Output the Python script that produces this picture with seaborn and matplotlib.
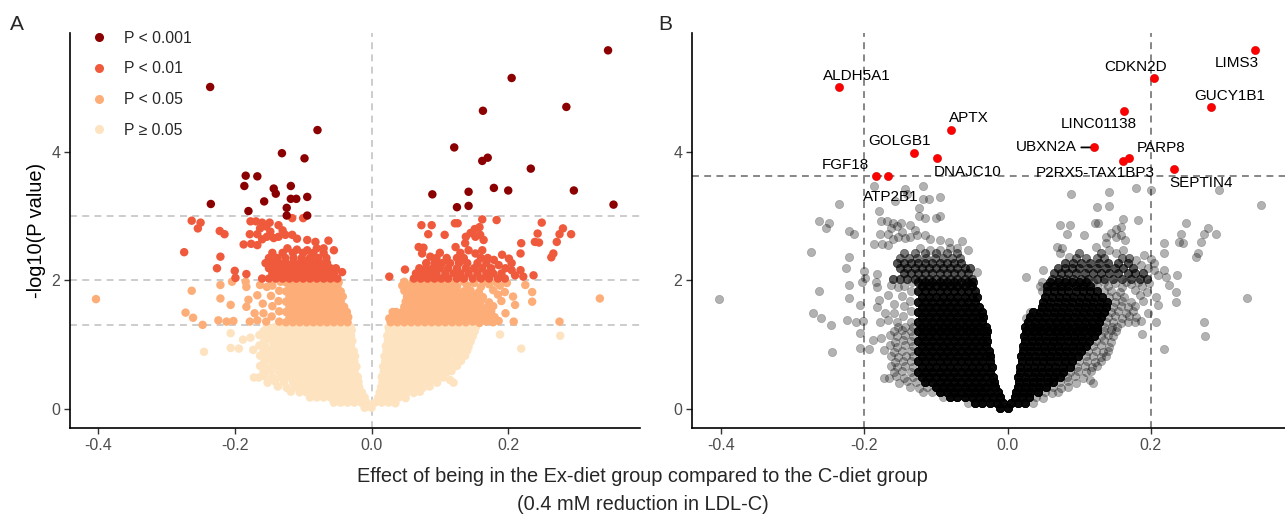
import numpy as np
import pandas as pd
from matplotlib import pyplot as plt
import seaborn as sns

# genes named in panel B (red points)
top_genes = ["ALDH5A1", "APTX", "GOLGB1", "DNAJC10", "FGF18", "ATP2B1", "CDKN2D",
             "LIMS3", "GUCY1B1", "LINC01138", "UBXN2A", "PARP8", "P2RX5-TAX1BP3", "SEPTIN4"]
top_effect = [-0.236, -0.079, -0.131, -0.098, -0.184, -0.167, 0.205,
              0.346, 0.285, 0.163, 0.121, 0.170, 0.162, 0.233]
top_logp = [5.01, 4.34, 3.98, 3.90, 3.63, 3.62, 5.15,
            5.58, 4.70, 4.64, 4.07, 3.91, 3.86, 3.74]

# other genes read one by one: (effect, -log10 P)
single_dark = [(-0.186, 3.47), (-0.143, 3.43), (-0.140, 3.35), (-0.118, 3.47), (-0.157, 3.23),
               (-0.118, 3.27), (-0.110, 3.27), (-0.094, 3.30), (-0.235, 3.19), (-0.180, 3.08),
               (-0.124, 3.13), (-0.124, 3.01), (-0.094, 3.01),
               (0.089, 3.34), (0.142, 3.38), (0.179, 3.44), (0.200, 3.40), (0.296, 3.40),
               (0.125, 3.14), (0.142, 3.16), (0.354, 3.18)]
single_red = [(-0.263, 2.93), (-0.250, 2.90), (-0.254, 2.81), (-0.274, 2.44), (-0.222, 2.77),
              (-0.215, 2.72), (-0.221, 2.37), (-0.226, 2.19), (-0.200, 2.15), (-0.199, 2.04),
              (-0.183, 2.10), (-0.187, 2.56), (-0.176, 2.57), (-0.167, 2.55), (-0.178, 2.72),
              (-0.167, 2.72), (-0.177, 2.92), (-0.169, 2.92), (-0.160, 2.90), (-0.149, 2.90),
              (-0.136, 2.86), (-0.130, 2.78), (-0.116, 2.97), (-0.100, 2.97), (-0.163, 2.81),
              (-0.154, 2.84), (-0.148, 2.76), (-0.160, 2.64), (-0.153, 2.68), (-0.143, 2.66),
              (-0.136, 2.68), (-0.126, 2.71), (-0.116, 2.71), (-0.109, 2.65), (-0.094, 2.63),
              (-0.082, 2.60), (-0.063, 2.62), (-0.055, 2.47), (-0.123, 2.50), (-0.109, 2.48),
              (-0.094, 2.47), (-0.080, 2.50), (-0.070, 2.50), (-0.043, 2.13),
              (0.073, 2.86), (0.088, 2.86), (0.122, 2.89), (0.126, 2.89), (0.162, 2.95),
              (0.158, 2.83), (0.151, 2.80), (0.145, 2.74), (0.138, 2.68), (0.183, 2.94),
              (0.249, 2.90), (0.280, 2.81), (0.275, 2.72), (0.271, 2.60), (0.266, 2.42),
              (0.263, 2.36), (0.292, 2.72), (0.243, 2.73), (0.239, 2.60), (0.245, 2.59),
              (0.219, 2.58), (0.218, 2.42), (0.083, 2.72), (0.107, 2.71), (0.069, 2.52),
              (0.076, 2.51), (0.086, 2.37), (0.074, 2.42), (0.123, 2.52), (0.137, 2.58),
              (0.142, 2.47), (0.152, 2.42), (0.162, 2.47), (0.152, 2.68), (0.159, 2.71),
              (0.164, 2.63), (0.049, 2.17), (0.026, 2.06), (0.237, 2.08), (0.222, 2.06),
              (0.210, 2.08), (0.218, 2.16), (0.191, 2.40), (0.201, 2.34), (0.205, 2.27),
              (0.179, 2.32), (0.186, 2.24), (0.196, 2.19), (0.205, 2.16)]
single_orange = [(-0.403, 1.71), (-0.263, 1.84), (-0.272, 1.50), (-0.261, 1.42), (-0.247, 1.31),
                 (-0.221, 1.72), (-0.221, 1.93), (-0.206, 1.62), (-0.224, 1.38), (-0.212, 1.36),
                 (-0.202, 1.37), (-0.204, 1.98), (-0.184, 1.98), (-0.183, 1.90), (-0.180, 1.70),
                 (-0.183, 1.59), (-0.178, 1.36), (-0.167, 1.38), (-0.167, 1.77), (-0.171, 1.49),
                 (-0.163, 1.93), (-0.153, 1.90), (-0.159, 1.64), (-0.158, 1.49), (-0.154, 1.36),
                 (-0.135, 1.36), (-0.146, 1.44), (-0.135, 1.52), (-0.145, 1.60), (-0.136, 1.68),
                 (-0.147, 1.76), (-0.135, 1.84), (-0.145, 1.92), (-0.133, 1.98),
                 (0.026, 1.41), (0.031, 1.51), (0.208, 1.36), (0.275, 1.36), (0.334, 1.72),
                 (0.138, 1.35), (0.148, 1.36), (0.158, 1.34), (0.168, 1.36), (0.178, 1.35),
                 (0.186, 1.37), (0.140, 1.43), (0.150, 1.44), (0.160, 1.42), (0.170, 1.44),
                 (0.180, 1.43), (0.145, 1.51), (0.155, 1.52), (0.165, 1.50), (0.175, 1.52),
                 (0.196, 1.49), (0.148, 1.59), (0.158, 1.60), (0.168, 1.58), (0.178, 1.60),
                 (0.210, 1.62), (0.150, 1.67), (0.160, 1.68), (0.172, 1.66), (0.190, 1.68),
                 (0.235, 1.67), (0.142, 1.75), (0.152, 1.76), (0.163, 1.74), (0.185, 1.78),
                 (0.207, 1.75), (0.135, 1.83), (0.145, 1.84), (0.157, 1.82), (0.178, 1.85),
                 (0.195, 1.82), (0.235, 1.82), (0.048, 1.84), (0.125, 1.91), (0.140, 1.92),
                 (0.160, 1.90), (0.172, 1.94), (0.188, 1.92), (0.225, 1.93), (0.045, 1.92),
                 (0.120, 1.97), (0.135, 1.98), (0.150, 1.96), (0.165, 1.98), (0.183, 1.97),
                 (0.198, 1.96), (0.048, 1.98)]
single_cream = [(-0.245, 0.89), (-0.206, 1.18), (-0.206, 0.95), (-0.194, 0.94), (-0.188, 1.08),
                (-0.177, 1.11), (-0.173, 0.92), (-0.172, 0.49),
                (-0.055, 0.10), (-0.090, 0.18), (-0.105, 0.26), (-0.118, 0.27), (-0.112, 0.34),
                (-0.124, 0.33), (-0.137, 0.35), (-0.128, 0.42), (-0.141, 0.43), (-0.152, 0.41),
                (-0.132, 0.50), (-0.144, 0.49), (-0.156, 0.51), (-0.165, 0.49), (-0.135, 0.58),
                (-0.147, 0.59), (-0.158, 0.57), (-0.132, 0.66), (-0.143, 0.67), (-0.154, 0.65),
                (-0.163, 0.67), (-0.135, 0.74), (-0.146, 0.75), (-0.157, 0.73), (-0.132, 0.82),
                (-0.142, 0.83), (-0.153, 0.81), (-0.163, 0.83), (-0.135, 0.90), (-0.147, 0.91),
                (-0.158, 0.89), (-0.132, 0.98), (-0.143, 0.99), (-0.155, 0.97), (-0.164, 0.99),
                (-0.135, 1.06), (-0.146, 1.07), (-0.157, 1.05), (-0.132, 1.14), (-0.143, 1.15),
                (-0.154, 1.13), (-0.164, 1.15), (-0.135, 1.22), (-0.147, 1.23), (-0.158, 1.21),
                (-0.132, 1.28), (-0.143, 1.27), (-0.153, 1.28),
                (0.035, 0.09), (0.040, 0.18), (0.050, 0.17), (0.052, 0.26), (0.062, 0.25),
                (0.071, 0.27), (0.064, 0.34), (0.075, 0.33), (0.085, 0.35), (0.074, 0.42),
                (0.085, 0.43), (0.096, 0.41), (0.083, 0.50), (0.094, 0.51), (0.105, 0.49),
                (0.088, 0.58), (0.099, 0.59), (0.110, 0.57), (0.117, 0.59), (0.097, 0.66),
                (0.108, 0.67), (0.118, 0.65), (0.125, 0.67), (0.100, 0.74), (0.111, 0.75),
                (0.122, 0.73), (0.131, 0.75), (0.109, 0.82), (0.120, 0.83), (0.130, 0.81),
                (0.137, 0.83), (0.112, 0.90), (0.123, 0.91), (0.133, 0.89), (0.140, 0.91),
                (0.120, 0.98), (0.131, 0.99), (0.142, 0.97), (0.124, 1.06), (0.135, 1.07),
                (0.145, 1.05), (0.131, 1.14), (0.141, 1.15), (0.148, 1.13), (0.135, 1.22),
                (0.145, 1.23), (0.151, 1.21), (0.135, 1.28), (0.146, 1.27), (0.153, 1.28),
                (0.115, 0.45), (0.120, 0.41), (0.219, 0.94), (0.276, 1.14), (0.188, 1.16)]

# dense middle of the cloud: one row per -log10 P level, each spot holds several genes
cloud_logp = [0.02, 0.10, 0.18, 0.26, 0.34, 0.42, 0.50, 0.58, 0.66, 0.74, 0.82, 0.90, 0.98,
              1.06, 1.14, 1.22, 1.27, 1.35, 1.43, 1.51, 1.59, 1.67, 1.75, 1.83, 1.91, 1.97,
              2.03, 2.11, 2.19, 2.27, 2.35, 2.43]
cloud_genes = [9, 9, 9, 9, 9, 8, 8, 8, 8, 8, 8, 8, 8,
               8, 8, 8, 8, 8, 8, 8, 8, 7, 7, 6, 6, 5,
               3, 3, 3, 3, 2, 2]
cloud_effects = [
    [-0.010, 0.000],
    [-0.045, -0.035, -0.025, -0.015, -0.007, 0.005, 0.015, 0.025],
    [-0.080, -0.070, -0.060, -0.050, -0.040, -0.030, -0.020, -0.010, 0.010, 0.020, 0.030],
    [-0.095, -0.085, -0.075, -0.065, -0.055, -0.045, -0.035, -0.025, -0.014,
     0.012, 0.022, 0.032, 0.042],
    [-0.100, -0.090, -0.080, -0.070, -0.060, -0.050, -0.040, -0.030, -0.018,
     0.014, 0.024, 0.034, 0.044, 0.054],
    [-0.115, -0.105, -0.095, -0.085, -0.075, -0.065, -0.055, -0.045, -0.035, -0.025, -0.019,
     0.016, 0.026, 0.036, 0.046, 0.056, 0.064],
    [-0.120, -0.110, -0.100, -0.090, -0.080, -0.070, -0.060, -0.050, -0.040, -0.030, -0.020,
     0.015, 0.025, 0.035, 0.045, 0.055, 0.065, 0.073],
    [-0.125, -0.115, -0.105, -0.095, -0.085, -0.075, -0.065, -0.055, -0.045, -0.035, -0.025,
     0.018, 0.028, 0.038, 0.048, 0.058, 0.068, 0.078],
    [-0.120, -0.110, -0.100, -0.090, -0.080, -0.070, -0.060, -0.050, -0.040, -0.030, -0.022,
     0.017, 0.027, 0.037, 0.047, 0.057, 0.067, 0.077, 0.087],
    [-0.125, -0.115, -0.105, -0.095, -0.085, -0.075, -0.065, -0.055, -0.045, -0.035, -0.025,
     0.020, 0.030, 0.040, 0.050, 0.060, 0.070, 0.080, 0.090],
    [-0.120, -0.110, -0.100, -0.090, -0.080, -0.070, -0.060, -0.050, -0.040, -0.030, -0.024,
     0.019, 0.029, 0.039, 0.049, 0.059, 0.069, 0.079, 0.089, 0.099],
    [-0.125, -0.115, -0.105, -0.095, -0.085, -0.075, -0.065, -0.055, -0.045, -0.035, -0.026,
     0.022, 0.032, 0.042, 0.052, 0.062, 0.072, 0.082, 0.092, 0.102],
    [-0.120, -0.110, -0.100, -0.090, -0.080, -0.070, -0.060, -0.050, -0.040, -0.030,
     0.021, 0.031, 0.041, 0.051, 0.061, 0.071, 0.081, 0.091, 0.101, 0.110],
    [-0.125, -0.115, -0.105, -0.095, -0.085, -0.075, -0.065, -0.055, -0.045, -0.035, -0.028,
     0.024, 0.034, 0.044, 0.054, 0.064, 0.074, 0.084, 0.094, 0.104, 0.114],
    [-0.120, -0.110, -0.100, -0.090, -0.080, -0.070, -0.060, -0.050, -0.040, -0.030,
     0.023, 0.033, 0.043, 0.053, 0.063, 0.073, 0.083, 0.093, 0.103, 0.113, 0.121],
    [-0.125, -0.115, -0.105, -0.095, -0.085, -0.075, -0.065, -0.055, -0.045, -0.035, -0.029,
     0.026, 0.036, 0.046, 0.056, 0.066, 0.076, 0.086, 0.096, 0.106, 0.116, 0.125],
    [-0.120, -0.110, -0.100, -0.090, -0.080, -0.070, -0.060, -0.050, -0.040, -0.030,
     0.025, 0.035, 0.045, 0.055, 0.065, 0.075, 0.085, 0.095, 0.105, 0.115, 0.125],
    [-0.125, -0.115, -0.105, -0.095, -0.085, -0.075, -0.065, -0.055, -0.045, -0.035,
     0.028, 0.038, 0.048, 0.058, 0.068, 0.078, 0.088, 0.098, 0.108, 0.118, 0.128],
    [-0.120, -0.110, -0.100, -0.090, -0.080, -0.070, -0.060, -0.050, -0.040, -0.034,
     0.032, 0.043, 0.053, 0.063, 0.073, 0.083, 0.093, 0.103, 0.113, 0.123, 0.130],
    [-0.125, -0.115, -0.105, -0.095, -0.085, -0.075, -0.065, -0.055, -0.045, -0.036,
     0.036, 0.045, 0.055, 0.065, 0.075, 0.085, 0.095, 0.105, 0.115, 0.125, 0.135],
    [-0.120, -0.110, -0.100, -0.090, -0.080, -0.070, -0.060, -0.050, -0.040,
     0.048, 0.058, 0.068, 0.078, 0.088, 0.098, 0.108, 0.118, 0.128, 0.138],
    [-0.125, -0.115, -0.105, -0.095, -0.085, -0.075, -0.065, -0.055, -0.045,
     0.050, 0.060, 0.070, 0.080, 0.090, 0.100, 0.110, 0.120, 0.130, 0.139],
    [-0.120, -0.110, -0.100, -0.090, -0.080, -0.070, -0.060, -0.050, -0.042,
     0.052, 0.062, 0.072, 0.082, 0.092, 0.102, 0.112, 0.122, 0.132],
    [-0.125, -0.115, -0.105, -0.095, -0.085, -0.075, -0.065, -0.055, -0.045,
     0.055, 0.065, 0.075, 0.085, 0.095, 0.105, 0.115, 0.125],
    [-0.120, -0.110, -0.100, -0.090, -0.080, -0.070, -0.060, -0.050,
     0.055, 0.065, 0.075, 0.085, 0.095, 0.105, 0.115],
    [-0.125, -0.115, -0.105, -0.095, -0.085, -0.075, -0.065, -0.055, -0.048,
     0.060, 0.070, 0.080, 0.090, 0.100, 0.110],
    [-0.160, -0.150, -0.140, -0.130, -0.120, -0.110, -0.100, -0.090, -0.080, -0.070, -0.060, -0.050,
     0.062, 0.072, 0.082, 0.092, 0.102, 0.112, 0.125, 0.135, 0.148, 0.160, 0.172, 0.185, 0.195],
    [-0.145, -0.135, -0.125, -0.115, -0.105, -0.095, -0.085, -0.075, -0.065, -0.055,
     0.065, 0.075, 0.085, 0.095, 0.108, 0.120, 0.130, 0.142, 0.155, 0.168, 0.178, 0.190],
    [-0.150, -0.140, -0.130, -0.120, -0.110, -0.100, -0.090, -0.080, -0.070, -0.060, -0.052,
     0.070, 0.080, 0.090, 0.100, 0.112, 0.125, 0.138, 0.150, 0.162, 0.175],
    [-0.155, -0.145, -0.135, -0.125, -0.115, -0.105, -0.095, -0.085, -0.075, -0.065,
     0.080, 0.092, 0.103, 0.115, 0.128, 0.140, 0.155, 0.168],
    [-0.150, -0.138, -0.126, -0.114, -0.102, -0.090, -0.078, -0.066,
     0.095, 0.110, 0.125, 0.135, 0.160, 0.170],
    [-0.145, -0.130, -0.115, -0.100, -0.085, -0.070, 0.100, 0.130],
]

p_labels = ["P < 0.001", "P < 0.01", "P < 0.05", "P \u2265 0.05"]
p_colors = ["#8B0000", "#EF5A3C", "#FDAE78", "#FDE3C0"]
fdr_line = 3.62
effect_cut = 0.2

# --- build table ---
rows = []
for lp, n, xs in zip(cloud_logp, cloud_genes, cloud_effects):
    rows += [(x, lp, n) for x in xs]
for pts in (single_cream, single_orange, single_red, single_dark):
    rows += [(x, lp, 1) for x, lp in pts]
rows += [(x, lp, 1) for x, lp in zip(top_effect, top_logp)]
df = pd.DataFrame(rows, columns=["effect", "logp", "n"])
df["band"] = pd.cut(df["logp"], [-np.inf, -np.log10(0.05), 2, 3, np.inf],
                    right=False, labels=p_labels[::-1])
df = df.sort_values("logp", kind="stable").reset_index(drop=True)
top = pd.DataFrame({"gene": top_genes, "effect": top_effect, "logp": top_logp})

sns.set_theme(style="ticks")
plt.rcParams["font.family"] = ["Liberation Sans", "DejaVu Sans"]
plt.rcParams["axes.unicode_minus"] = False

fig = plt.figure(figsize=(12.85, 5.15), dpi=100)
ax1 = fig.add_axes([70 / 1285, 87 / 515, 569.5 / 1285, 395 / 515])
ax2 = fig.add_axes([692 / 1285, 87 / 515, 596 / 1285, 395 / 515])

dash = (0, (4.5, 3.5))

# panel A: coloured by P band
for y in [3, 2, -np.log10(0.05)]:
    ax1.axhline(y, color="#BEBEBE", lw=1.1, ls=dash, zorder=0)
ax1.axvline(0, color="#BEBEBE", lw=1.1, ls=dash, zorder=0)
sns.scatterplot(data=df, x="effect", y="logp", hue="band", hue_order=p_labels,
                palette=p_colors, s=37, linewidth=0, ax=ax1)
h, l = ax1.get_legend_handles_labels()
for hh in h:
    hh.set_markersize(6.5)
ax1.legend(h, l, loc="upper left", bbox_to_anchor=(0.037, 1.006), frameon=False,
           fontsize=11.3, borderpad=0, borderaxespad=0, handlelength=0.95,
           handletextpad=1.15, labelspacing=1.0)
ax1.set_ylabel("-log10(P value)", fontsize=14.4, color="black")

# panel B: grey cloud with named genes
ax2.axhline(fdr_line, color="#666666", lw=1.1, ls=dash, zorder=0)
for x in (-effect_cut, effect_cut):
    ax2.axvline(x, color="#666666", lw=1.1, ls=dash, zorder=0)
cloud = df.loc[df.index.repeat(df["n"])]
sns.scatterplot(data=cloud, x="effect", y="logp", color="black", alpha=0.3, s=36,
                edgecolor="black", linewidth=0.4, ax=ax2)
sns.scatterplot(data=top, x="effect", y="logp", color="red", s=38, linewidth=0, ax=ax2)

label_shift = {"ALDH5A1": (0.025, 0.17), "APTX": (0.025, 0.19), "GOLGB1": (-0.020, 0.19),
               "DNAJC10": (0.042, -0.21), "FGF18": (-0.042, 0.16), "ATP2B1": (0.004, -0.32),
               "CDKN2D": (-0.026, 0.17), "LIMS3": (-0.026, -0.20), "GUCY1B1": (0.025, 0.17),
               "LINC01138": (-0.035, -0.21), "UBXN2A": (-0.067, 0.0), "PARP8": (0.044, 0.15),
               "P2RX5-TAX1BP3": (-0.039, -0.19), "SEPTIN4": (0.038, -0.22)}
for g, x, y in zip(top_genes, top_effect, top_logp):
    dx, dy = label_shift[g]
    arrow = dict(arrowstyle="-", color="black", lw=1.3, shrinkA=1, shrinkB=3) if g == "UBXN2A" else None
    ax2.annotate(g, (x, y), xytext=(x + dx, y + dy), ha="center", va="center",
                 fontsize=11, color="black", arrowprops=arrow)

for ax in (ax1, ax2):
    ax.set_xlim(-0.441, 0.392)
    ax.set_ylim(-0.295, 5.85)
    ax.set_xticks([-0.4, -0.2, 0.0, 0.2])
    ax.set_xticklabels(["-0.4", "-0.2", "0.0", "0.2"])
    ax.set_yticks([0, 2, 4])
    ax.set_yticklabels(["0", "2", "4"])
    ax.tick_params(direction="out", length=4, width=1, color="#333333",
                   labelcolor="#4D4D4D", labelsize=11.5, pad=3)
    ax.set_xlabel("")
    sns.despine(ax=ax)
    for s in ("left", "bottom"):
        ax.spines[s].set_color("black")
        ax.spines[s].set_linewidth(1.2)
ax2.set_ylabel("")

fig.text(0.5, 1 - 477 / 515, "Effect of being in the Ex-diet group compared to the C-diet group",
         ha="center", va="center", fontsize=14.4)
fig.text(0.5, 1 - 505 / 515, "(0.4 mM reduction in LDL-C)",
         ha="center", va="center", fontsize=14.4)
fig.text(10 / 1285, 1 - 24 / 515, "A", fontsize=15, va="center")
fig.text(658 / 1285, 1 - 24 / 515, "B", fontsize=15, va="center")

fig.savefig("out.png", dpi=100)
